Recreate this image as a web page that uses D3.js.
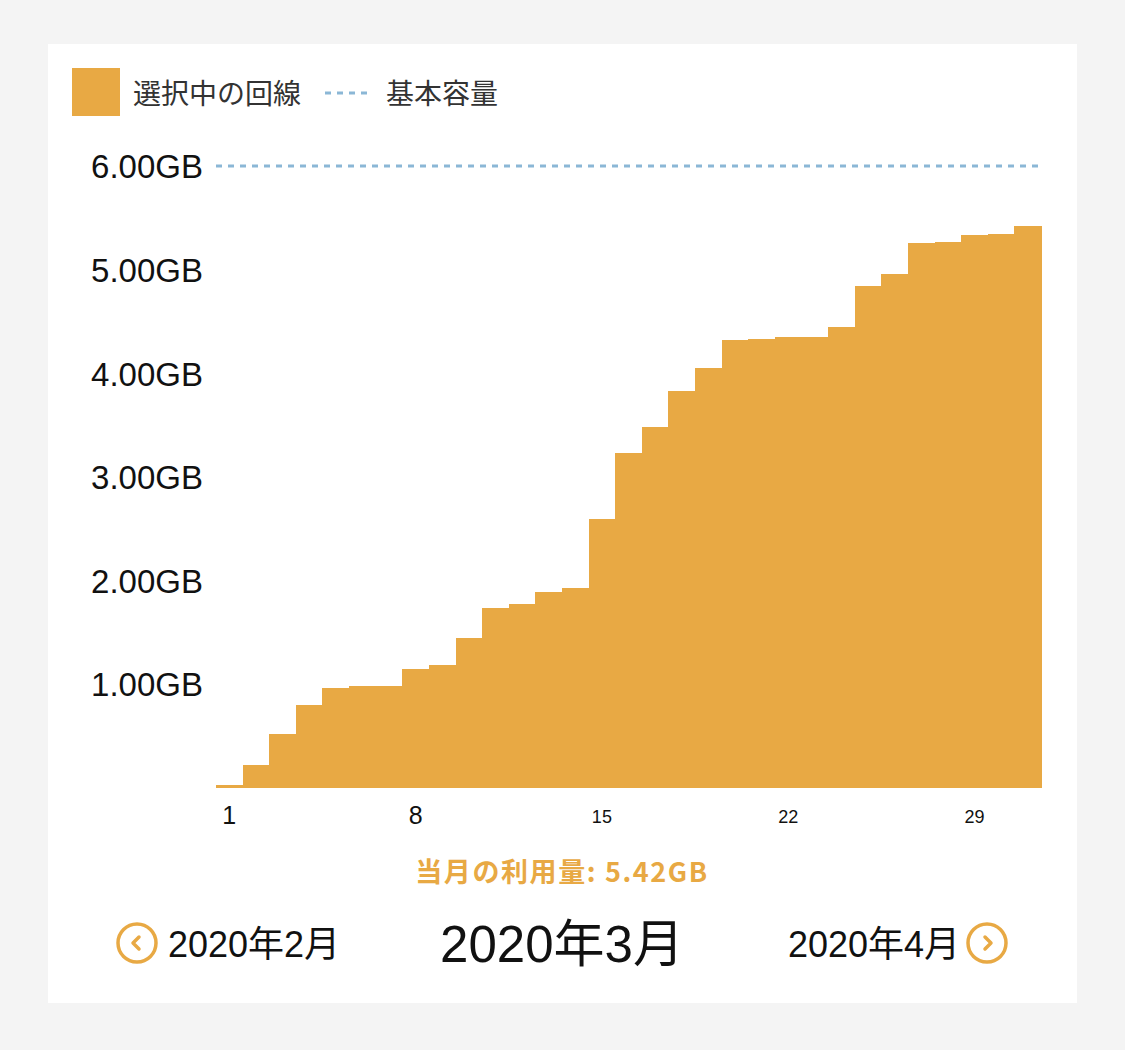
<!DOCTYPE html>
<html>
<head>
<meta charset="utf-8">
<script src="https://cdn.jsdelivr.net/npm/d3@7"></script>
<style>
  html, body { margin: 0; padding: 0; background: #f4f4f4; }
  svg { display: block; }
  text { font-family: "Noto Sans CJK JP", "Noto Sans", sans-serif; }
</style>
</head>
<body>
<svg id="chart" width="1125" height="1050"></svg>
<script>
// ---- data ----
const days = d3.range(1, 32);
const usage = [0.02, 0.22, 0.52, 0.80, 0.96, 0.98, 0.98, 1.14, 1.18, 1.44,
               1.73, 1.77, 1.89, 1.93, 2.59, 3.23, 3.48, 3.83, 4.05, 4.32,
               4.33, 4.35, 4.35, 4.45, 4.84, 4.96, 5.26, 5.27, 5.33, 5.34, 5.42];
const baseCapacity = 6.0;
const yTicks = [1, 2, 3, 4, 5, 6];
const xTicks = [1, 8, 15, 22, 29];
const legendLabels = ["選択中の回線", "基本容量"];
const totalLabel = "当月の利用量: 5.42GB";
const prevMonth = "2020年2月";
const curMonth = "2020年3月";
const nextMonth = "2020年4月";

const ORANGE = "#e8a944";
const BLUE = "#8bb7d6";
const MIXED = '"Liberation Sans", "Noto Sans CJK JP", sans-serif';

const svg = d3.select("#chart");

// card
svg.append("rect").attr("x", 48).attr("y", 44).attr("width", 1029).attr("height", 959).attr("fill", "#fff");

// scales
const x = d3.scaleBand().domain(days).range([216, 1041]).padding(0);
const y = d3.scaleLinear().domain([0, 6]).range([787.5, 166]);

// bars
svg.append("g").attr("shape-rendering", "crispEdges")
  .selectAll("rect").data(days).join("rect")
  .attr("x", d => x(d))
  .attr("width", x.bandwidth() + 1)
  .attr("y", (d, i) => y(usage[i]))
  .attr("height", (d, i) => y(0) - y(usage[i]))
  .attr("fill", ORANGE);

// base capacity line
svg.append("line")
  .attr("x1", 216).attr("x2", 1041)
  .attr("y1", y(baseCapacity)).attr("y2", y(baseCapacity))
  .attr("stroke", BLUE).attr("stroke-width", 3)
  .attr("stroke-dasharray", "6,6");

// y axis
const yAxis = svg.append("g").attr("transform", "translate(203,0)")
  .call(d3.axisLeft(y).tickValues(yTicks).tickSize(0).tickPadding(0)
        .tickFormat(d => d.toFixed(2) + "GB"));
yAxis.select(".domain").remove();
yAxis.selectAll("text")
  .attr("font-size", 33).attr("fill", "#111")
  .style("font-family", MIXED)
  .attr("dy", "0.36em");

// x axis
const xAxis = svg.append("g").attr("transform", "translate(0,788)")
  .call(d3.axisBottom(x).tickValues(xTicks).tickSize(0).tickPadding(0));
xAxis.select(".domain").remove();
xAxis.selectAll("text")
  .style("font-family", MIXED)
  .attr("fill", "#111")
  .attr("font-size", d => d < 10 ? 25 : 18)
  .attr("y", d => d < 10 ? 36 : 35)
  .attr("dy", 0);

// legend
svg.append("rect").attr("x", 72).attr("y", 68).attr("width", 48).attr("height", 48).attr("fill", ORANGE);
svg.append("text").attr("x", 133).attr("y", 94).attr("dy", "0.35em")
  .attr("font-size", 28).attr("fill", "#333").text(legendLabels[0]);
svg.append("line").attr("x1", 325).attr("x2", 370).attr("y1", 93).attr("y2", 93)
  .attr("stroke", BLUE).attr("stroke-width", 3).attr("stroke-dasharray", "6,6");
svg.append("text").attr("x", 386).attr("y", 94).attr("dy", "0.35em")
  .attr("font-size", 28).attr("fill", "#333").text(legendLabels[1]);

// total
svg.append("text").attr("x", 562).attr("y", 873).attr("dy", "0.35em")
  .attr("text-anchor", "middle").attr("font-size", 27).attr("font-weight", "bold")
  .attr("letter-spacing", 1.6)
  .attr("fill", ORANGE).text(totalLabel);

// month navigation
function navCircle(cx, cy, dir) {
  svg.append("circle").attr("cx", cx).attr("cy", cy).attr("r", 19)
    .attr("fill", "none").attr("stroke", ORANGE).attr("stroke-width", 3.5);
  const s = 5;
  const pts = dir < 0
    ? [[cx + 2, cy - s - 1], [cx - 4, cy], [cx + 2, cy + s + 1]]
    : [[cx - 2, cy - s - 1], [cx + 4, cy], [cx - 2, cy + s + 1]];
  svg.append("path").attr("d", d3.line()(pts))
    .attr("fill", "none").attr("stroke", ORANGE).attr("stroke-width", 3.5)
    .attr("stroke-linecap", "round").attr("stroke-linejoin", "round");
}
navCircle(137, 943, -1);
navCircle(987, 943, 1);

svg.append("text").attr("x", 168).attr("y", 944).attr("dy", "0.36em")
  .style("font-family", MIXED)
  .attr("font-size", 36).attr("fill", "#111").text(prevMonth);
svg.append("text").attr("x", 562).attr("y", 944).attr("dy", "0.36em")
  .style("font-family", MIXED)
  .attr("text-anchor", "middle").attr("font-size", 51).attr("fill", "#111").text(curMonth);
svg.append("text").attr("x", 960).attr("y", 944).attr("dy", "0.36em")
  .style("font-family", MIXED)
  .attr("text-anchor", "end").attr("font-size", 36).attr("fill", "#111").text(nextMonth);
</script>
</body>
</html>
